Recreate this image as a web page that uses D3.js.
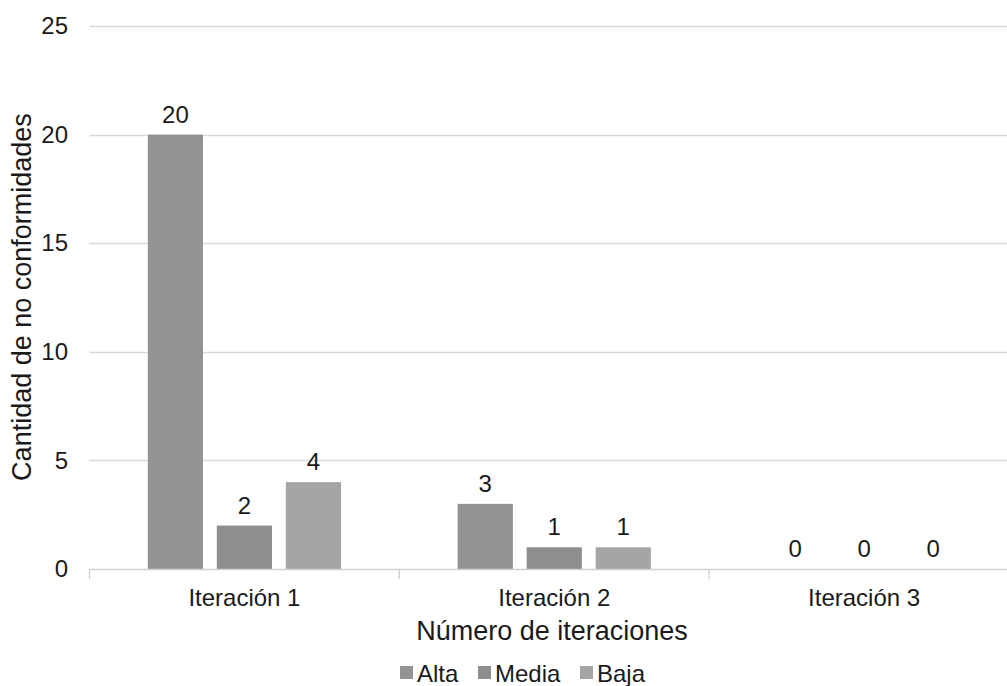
<!DOCTYPE html>
<html>
<head>
<meta charset="utf-8">
<script src="https://cdn.jsdelivr.net/npm/d3@7"></script>
<style>
  html, body { margin: 0; padding: 0; background: #fff; }
  svg { display: block; font-family: "Liberation Sans", Arial, sans-serif; }
</style>
</head>
<body>
<svg id="chart" width="1007" height="686"></svg>
<script>
// Non-conformities found per iteration, by severity
const categories = ["Iteración 1", "Iteración 2", "Iteración 3"];
const series = ["Alta", "Media", "Baja"];
const alta = [20, 3, 0];
const media = [2, 1, 0];
const baja = [4, 1, 0];
const yTicks = [0, 5, 10, 15, 20, 25];
const colors = ["#939393", "#8e8e8e", "#a5a5a5"];

const values = [alta, media, baja];
const rows = categories.map((c, i) => ({
  cat: c,
  vals: series.map((s, j) => ({ key: s, value: values[j][i], color: colors[j] }))
}));

const svg = d3.select("#chart");
const plotLeft = 89.5, plotRight = 1019, plotTop = 26, plotBottom = 569;

const x = d3.scaleBand().domain(categories).range([plotLeft, plotRight]).padding(0);
const xi = d3.scaleBand().domain(series).range([0, x.bandwidth()])
  .paddingInner(0.2).paddingOuter(0.845);
const y = d3.scaleLinear().domain([0, 25]).range([plotBottom, plotTop]);

// Horizontal gridlines
svg.append("g")
  .selectAll("line")
  .data(yTicks.filter(t => t > 0))
  .join("line")
  .attr("x1", plotLeft).attr("x2", plotRight)
  .attr("y1", d => Math.round(y(d)) + 0.5).attr("y2", d => Math.round(y(d)) + 0.5)
  .attr("stroke", "#d9d9d9").attr("stroke-width", 1.3);

// Y axis labels
const yAxis = d3.axisLeft(y).tickValues(yTicks).tickSize(0).tickPadding(0);
const gy = svg.append("g").attr("transform", `translate(68,0)`).call(yAxis);
gy.select(".domain").remove();
gy.selectAll("text").attr("font-size", 24).attr("fill", "#1a1a1a")
  .attr("font-family", "Liberation Sans, Arial, sans-serif");

// Bars
const groups = svg.append("g").selectAll("g")
  .data(rows).join("g")
  .attr("transform", d => `translate(${x(d.cat)},0)`);

groups.selectAll("rect")
  .data(d => d.vals).join("rect")
  .attr("x", d => xi(d.key))
  .attr("width", xi.bandwidth())
  .attr("y", d => y(d.value))
  .attr("height", d => y(0) - y(d.value))
  .attr("fill", d => d.color);

// Value labels
groups.selectAll("text")
  .data(d => d.vals).join("text")
  .attr("x", d => xi(d.key) + xi.bandwidth() / 2)
  .attr("y", d => y(d.value) - 12)
  .attr("text-anchor", "middle")
  .attr("font-size", 24)
  .attr("fill", "#1a1a1a")
  .text(d => d.value);

// X axis
const xAxis = d3.axisBottom(x).tickSize(0).tickPadding(20);
const gx = svg.append("g").attr("transform", `translate(0,${plotBottom})`).call(xAxis);
gx.select(".domain").remove();
gx.selectAll("text").attr("font-size", 24).attr("fill", "#1a1a1a")
  .attr("font-family", "Liberation Sans, Arial, sans-serif");
svg.append("line")
  .attr("x1", plotLeft).attr("x2", plotRight)
  .attr("y1", plotBottom + 0.5).attr("y2", plotBottom + 0.5)
  .attr("stroke", "#d0d0d0").attr("stroke-width", 1.3);
svg.append("g").selectAll("line")
  .data(d3.range(categories.length + 1))
  .join("line")
  .attr("x1", i => plotLeft + i * x.step()).attr("x2", i => plotLeft + i * x.step())
  .attr("y1", plotBottom).attr("y2", plotBottom + 10)
  .attr("stroke", "#d0d0d0").attr("stroke-width", 1.3);

// Axis titles
svg.append("text")
  .attr("x", 552).attr("y", 640)
  .attr("text-anchor", "middle")
  .attr("font-size", 27)
  .attr("fill", "#1a1a1a")
  .text("Número de iteraciones");

svg.append("text")
  .attr("transform", "translate(31,297) rotate(-90)")
  .attr("text-anchor", "middle")
  .attr("font-size", 27)
  .attr("fill", "#1a1a1a")
  .text("Cantidad de no conformidades");

// Legend
const legendX = [400, 478, 580];
const lg = svg.append("g").selectAll("g")
  .data(series).join("g")
  .attr("transform", (d, i) => `translate(${legendX[i]},666)`);
lg.append("rect").attr("width", 13).attr("height", 13)
  .attr("fill", (d, i) => colors[i]);
lg.append("text")
  .attr("x", 17).attr("y", 15.5)
  .attr("font-size", 24)
  .attr("fill", "#1a1a1a")
  .text(d => d);
</script>
</body>
</html>
